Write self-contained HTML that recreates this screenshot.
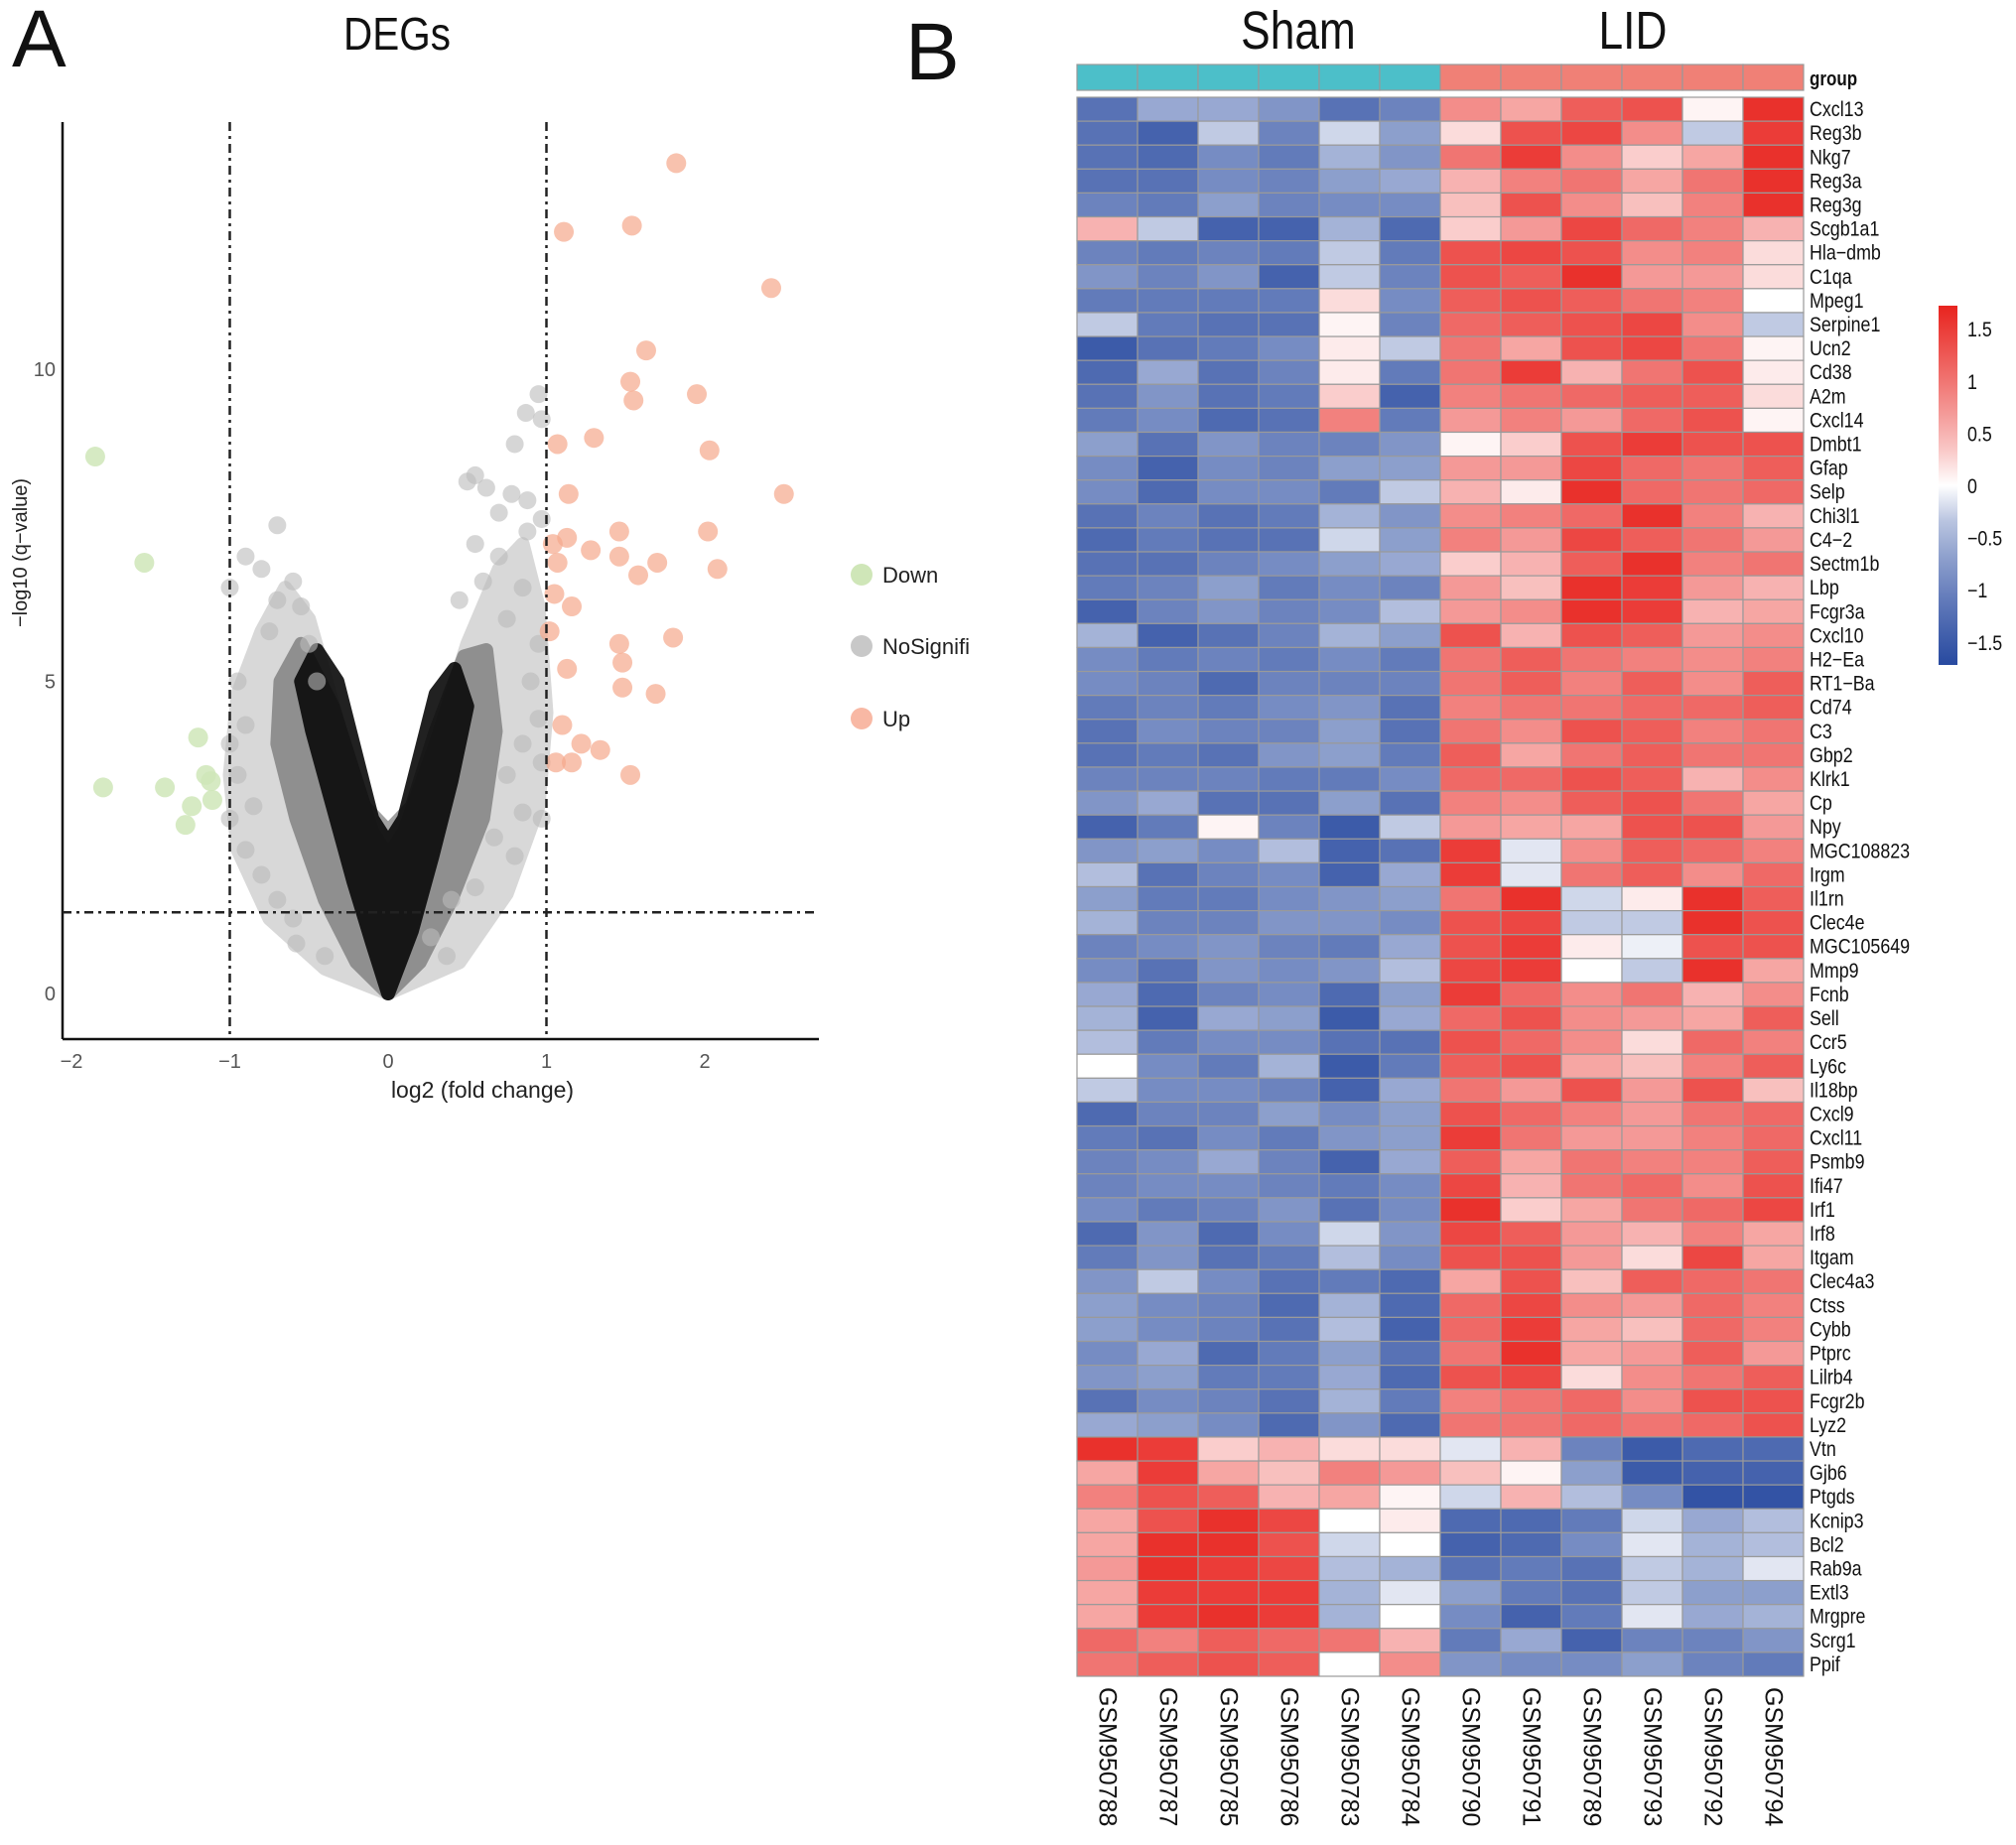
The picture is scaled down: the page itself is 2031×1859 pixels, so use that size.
<!DOCTYPE html>
<html><head><meta charset="utf-8"><style>
html,body{margin:0;padding:0;background:#fff;}
svg{display:block;font-family:"Liberation Sans",sans-serif;}
</style></head><body>
<svg id="fig" width="2031" height="1859" viewBox="0 0 2031 1859" xmlns="http://www.w3.org/2000/svg">
<text x="12" y="67" font-size="82" fill="#111">A</text>
<text x="912" y="80" font-size="82" fill="#111">B</text>
<text x="400" y="50" font-size="46" text-anchor="middle" fill="#111" transform="translate(400,0) scale(0.88,1) translate(-400,0)">DEGs</text>
<g id="volcano"></g>
<g id="heat"></g>
</svg>
<script>
const NS="http://www.w3.org/2000/svg";
function mk(parent,tag,attrs){const e=document.createElementNS(NS,tag);for(const k in attrs)e.setAttribute(k,attrs[k]);parent.appendChild(e);return e;}

// ---------- Volcano data ----------
const upX=[1.82,1.54,1.11,2.42,1.63,1.53,1.55,1.95,1.30,1.07,2.03,2.50,1.14,1.46,2.02,1.13,1.04,1.28,1.70,1.58,2.08,1.46,1.07,1.05,1.16,1.02,1.80,1.46,1.13,1.48,1.69,1.48,1.10,1.34,1.22,1.16,1.53,1.06];
const upY=[13.3,12.3,12.2,11.3,10.3,9.8,9.5,9.6,8.9,8.8,8.7,8.0,8.0,7.4,7.4,7.3,7.2,7.1,6.9,6.7,6.8,7.0,6.9,6.4,6.2,5.8,5.7,5.6,5.2,5.3,4.8,4.9,4.3,3.9,4.0,3.7,3.5,3.7];
const downX=[-1.85,-1.54,-1.20,-1.80,-1.41,-1.15,-1.24,-1.11,-1.28,-1.12];
const downY=[8.6,6.9,4.1,3.3,3.3,3.5,3.0,3.1,2.7,3.4];
const nsX=[-0.7,-0.9,-1.0,-0.8,-0.6,-0.55,-0.7,-0.75,-0.5,-0.45,-0.95,-0.9,-1.0,-0.95,-0.85,-1.0,-0.9,-0.8,-0.7,-0.6,-0.58,-0.4,0.95,0.87,0.97,0.8,0.55,0.5,0.62,0.78,0.88,0.7,0.97,0.88,0.55,0.7,0.85,0.6,0.45,0.75,0.95,0.9,0.95,0.85,0.97,0.75,0.85,0.97,0.67,0.8,0.55,0.4,0.37,0.27];
const nsY=[7.5,7.0,6.5,6.8,6.6,6.2,6.3,5.8,5.6,5.0,5.0,4.3,4.0,3.5,3.0,2.8,2.3,1.9,1.5,1.2,0.8,0.6,9.6,9.3,9.2,8.8,8.3,8.2,8.1,8.0,7.9,7.7,7.6,7.4,7.2,7.0,6.5,6.6,6.3,6.0,5.6,5.0,4.4,4.0,3.7,3.5,2.9,2.8,2.5,2.2,1.7,1.5,0.6,0.9];
// density envelopes of non-significant genes (outlines, data units)
const hazeX=[0,-0.4,-0.75,-0.95,-1.0,-0.95,-0.8,-0.65,-0.5,-0.3,-0.1,0,0.1,0.3,0.5,0.7,0.85,0.95,1.0,0.95,0.75,0.45];
const hazeY=[0,0.4,1.2,2.3,3.5,4.8,5.8,6.5,6.0,4.2,2.6,2.2,2.6,4.0,5.6,6.8,7.2,6.2,4.5,3.0,1.6,0.5];
const midX=[0,-0.2,-0.4,-0.58,-0.7,-0.68,-0.55,-0.35,-0.15,0,0.15,0.3,0.48,0.62,0.68,0.6,0.4,0.2];
const midY=[0,0.5,1.5,2.8,4.0,5.0,5.6,4.6,3.0,2.6,3.0,4.2,5.4,5.5,4.2,2.8,1.5,0.5];
const coreX=[0,-0.1,-0.22,-0.35,-0.48,-0.55,-0.45,-0.32,-0.2,-0.1,0,0.1,0.2,0.3,0.42,0.5,0.4,0.28,0.15];
const coreY=[0,0.8,1.8,3,4.2,5.0,5.5,5.0,3.8,2.8,2.4,2.8,3.8,4.8,5.2,4.6,3.4,2.2,1.0];
const xTicks=[-2,-1,0,1,2];
const yTicks=[0,5,10];
const qCut=1.3, fcCut=1;

const VX=v=>391+159.5*v, VY=v=>1001-62.9*v;
const vg=document.getElementById('volcano');
function poly(xs,ys,fill,op,name){const p=mk(vg,'polygon',{points:xs.map((x,i)=>VX(x)+','+VY(ys[i])).join(' '),fill:fill,opacity:op,'stroke':fill,'stroke-width':14,'stroke-linejoin':'round'});

}
poly(hazeX,hazeY,'#aaa','0.45','nonsig-haze');
poly(midX,midY,'#555','0.55','nonsig-mid');
poly(coreX,coreY,'#0a0a0a','0.9','nonsig-core');
nsX.forEach((x,i)=>{const c=mk(vg,'circle',{cx:VX(x),cy:VY(nsY[i]),r:9,fill:'#bbb','fill-opacity':0.6});

});
downX.forEach((x,i)=>{const c=mk(vg,'circle',{cx:VX(x),cy:VY(downY[i]),r:10,fill:'#cfe6b8','fill-opacity':0.85});

});
upX.forEach((x,i)=>{const c=mk(vg,'circle',{cx:VX(x),cy:VY(upY[i]),r:10,fill:'#f5a88c','fill-opacity':0.7});

});
// axes
let a=mk(vg,'line',{x1:63,y1:123,x2:63,y2:1047,stroke:'#111','stroke-width':2.5});


a=mk(vg,'line',{x1:63,y1:1047,x2:825,y2:1047,stroke:'#111','stroke-width':2.5});


[-fcCut,fcCut].forEach(v=>{const l=mk(vg,'line',{x1:VX(v),y1:123,x2:VX(v),y2:1047,stroke:'#222','stroke-width':2.5,'stroke-dasharray':'9,5,3,5'});

});
const hl=mk(vg,'line',{x1:63,y1:VY(qCut),x2:825,y2:VY(qCut),stroke:'#222','stroke-width':2.5,'stroke-dasharray':'9,5,3,5'});


xTicks.forEach(v=>{const t=mk(vg,'text',{x:VX(v),y:1076,'font-size':20,fill:'#555','text-anchor':'middle'});t.textContent=v<0?'\u2212'+(-v):v;

});
yTicks.forEach(v=>{const t=mk(vg,'text',{x:56,y:VY(v)+7,'font-size':20,fill:'#555','text-anchor':'end'});t.textContent=v;

});
let t=mk(vg,'text',{x:486,y:1106,'font-size':23,fill:'#222','text-anchor':'middle'});t.textContent='log2 (fold change)';


t=mk(vg,'text',{x:0,y:0,'font-size':20,fill:'#222','text-anchor':'middle',transform:'translate(27,557) rotate(-90)'});t.textContent='\u2212log10 (q\u2212value)';


const legLabels=['Down','NoSignifi','Up'], legCols=['#cfe6b8','#c8c8c8','#f8b8a4'], legY=[579,651,724];
legLabels.forEach((s,i)=>{const g=mk(vg,'g',{});


mk(g,'circle',{cx:868,cy:legY[i],r:11,fill:legCols[i]});
const tx=mk(g,'text',{x:889,y:legY[i]+8,'font-size':22,fill:'#222'});tx.textContent=s;});

// ---------- Heatmap data ----------
const genes=['Cxcl13','Reg3b','Nkg7','Reg3a','Reg3g','Scgb1a1','Hla\u2212dmb','C1qa','Mpeg1','Serpine1','Ucn2','Cd38','A2m','Cxcl14','Dmbt1','Gfap','Selp','Chi3l1','C4\u22122','Sectm1b','Lbp','Fcgr3a','Cxcl10','H2\u2212Ea','RT1\u2212Ba','Cd74','C3','Gbp2','Klrk1','Cp','Npy','MGC108823','Irgm','Il1rn','Clec4e','MGC105649','Mmp9','Fcnb','Sell','Ccr5','Ly6c','Il18bp','Cxcl9','Cxcl11','Psmb9','Ifi47','Irf1','Irf8','Itgam','Clec4a3','Ctss','Cybb','Ptprc','Lilrb4','Fcgr2b','Lyz2','Vtn','Gjb6','Ptgds','Kcnip3','Bcl2','Rab9a','Extl3','Mrgpre','Scrg1','Ppif'];
const samples=['GSM950788','GSM950787','GSM950785','GSM950786','GSM950783','GSM950784','GSM950790','GSM950791','GSM950789','GSM950793','GSM950792','GSM950794'];
const groups=['Sham','Sham','Sham','Sham','Sham','Sham','LID','LID','LID','LID','LID','LID'];
const values=[
[-1.2,-0.6,-0.6,-0.8,-1.2,-1.0,0.8,0.6,1.2,1.3,0.05,1.6],
[-1.2,-1.4,-0.3,-1.0,-0.2,-0.7,0.2,1.3,1.4,0.8,-0.3,1.5],
[-1.2,-1.3,-0.9,-1.1,-0.5,-0.8,1.0,1.5,0.8,0.3,0.6,1.6],
[-1.2,-1.2,-0.9,-1.0,-0.7,-0.6,0.5,0.9,1.0,0.6,1.0,1.6],
[-1.0,-1.1,-0.7,-1.0,-0.9,-0.9,0.4,1.3,0.8,0.4,0.9,1.6],
[0.5,-0.3,-1.4,-1.4,-0.5,-1.3,0.3,0.7,1.4,1.1,0.9,0.5],
[-1.0,-1.1,-1.0,-1.1,-0.3,-1.1,1.3,1.4,1.3,0.8,0.9,0.2],
[-0.8,-1.0,-0.8,-1.4,-0.3,-1.0,1.3,1.2,1.6,0.7,0.7,0.2],
[-1.1,-1.1,-1.1,-1.1,0.2,-0.9,1.2,1.3,1.2,1.0,0.9,0.0],
[-0.3,-1.1,-1.2,-1.2,0.05,-1.0,1.1,1.2,1.3,1.4,0.8,-0.3],
[-1.5,-1.2,-1.1,-0.9,0.1,-0.3,1.0,0.6,1.3,1.4,1.0,0.05],
[-1.3,-0.6,-1.2,-1.0,0.1,-1.1,1.0,1.5,0.5,1.0,1.3,0.1],
[-1.2,-0.8,-1.2,-1.1,0.3,-1.4,0.9,1.0,1.1,1.2,1.2,0.2],
[-1.1,-0.9,-1.3,-1.2,0.9,-1.1,0.7,0.9,0.7,1.1,1.3,0.05],
[-0.7,-1.2,-0.8,-1.0,-1.0,-0.8,0.05,0.3,1.3,1.5,1.3,1.3],
[-0.9,-1.4,-0.9,-1.0,-0.7,-0.7,0.7,0.7,1.4,1.1,1.0,1.2],
[-0.9,-1.3,-0.9,-0.9,-1.1,-0.3,0.5,0.1,1.6,1.1,1.0,1.1],
[-1.2,-1.0,-1.2,-1.1,-0.5,-0.8,0.8,0.9,1.1,1.6,0.9,0.5],
[-1.3,-1.1,-1.2,-1.2,-0.2,-0.7,0.9,0.7,1.4,1.2,1.0,0.7],
[-1.2,-1.2,-1.0,-0.9,-0.7,-0.6,0.3,0.5,1.2,1.6,0.9,1.0],
[-1.1,-1.0,-0.7,-1.1,-0.9,-1.0,0.7,0.4,1.6,1.5,0.7,0.5],
[-1.4,-1.0,-0.8,-1.0,-0.9,-0.4,0.7,0.8,1.6,1.5,0.5,0.6],
[-0.5,-1.4,-1.2,-1.0,-0.5,-0.7,1.3,0.5,1.3,1.2,0.7,0.8],
[-0.9,-1.1,-1.0,-1.1,-0.9,-1.1,1.0,1.2,1.0,0.9,0.8,0.9],
[-0.9,-1.0,-1.3,-1.0,-1.0,-1.0,1.0,1.2,0.9,1.2,0.8,1.2],
[-1.1,-1.0,-1.1,-0.9,-0.8,-1.2,0.9,1.0,1.0,1.1,1.1,1.2],
[-1.2,-0.9,-1.0,-1.0,-0.7,-1.2,1.0,0.8,1.3,1.2,0.9,1.0],
[-1.2,-1.1,-1.2,-0.8,-0.7,-1.1,1.2,0.6,1.0,1.2,1.0,1.0],
[-1.0,-1.0,-1.0,-1.1,-1.1,-0.9,1.1,1.1,1.3,1.2,0.5,0.8],
[-0.8,-0.6,-1.2,-1.2,-0.7,-1.2,0.9,0.8,1.2,1.3,1.0,0.6],
[-1.4,-1.1,0.05,-1.0,-1.5,-0.3,0.7,0.6,0.6,1.3,1.3,0.7],
[-0.8,-0.7,-0.9,-0.4,-1.4,-1.2,1.5,-0.1,0.8,1.2,1.1,0.9],
[-0.4,-1.2,-1.0,-0.9,-1.4,-0.6,1.5,-0.1,1.0,1.2,0.8,1.1],
[-0.7,-1.1,-1.1,-0.9,-0.8,-0.7,1.0,1.6,-0.2,0.1,1.6,1.2],
[-0.5,-1.0,-1.0,-0.8,-0.8,-0.9,1.3,1.4,-0.3,-0.3,1.6,1.3],
[-1.0,-0.9,-0.8,-1.0,-1.1,-0.6,1.3,1.5,0.1,-0.05,1.3,1.3],
[-0.9,-1.2,-0.8,-0.9,-0.8,-0.4,1.4,1.5,0.0,-0.3,1.6,0.6],
[-0.6,-1.3,-1.0,-0.9,-1.3,-0.7,1.5,1.1,0.8,1.0,0.5,0.8],
[-0.5,-1.4,-0.6,-0.7,-1.5,-0.6,1.1,1.3,0.8,0.7,0.6,1.2],
[-0.4,-1.1,-0.9,-0.9,-1.2,-1.2,1.3,1.1,0.8,0.2,1.1,0.9],
[0.0,-0.9,-1.1,-0.5,-1.5,-1.1,1.2,1.3,0.6,0.4,0.9,1.2],
[-0.3,-0.9,-0.9,-1.0,-1.4,-0.6,1.0,0.7,1.3,0.7,1.3,0.4],
[-1.3,-1.0,-1.0,-0.7,-0.9,-0.7,1.3,1.1,0.9,0.7,1.0,1.1],
[-1.1,-1.2,-0.9,-1.1,-0.8,-0.7,1.5,1.0,0.7,0.7,0.9,1.1],
[-1.0,-0.9,-0.6,-1.0,-1.4,-0.6,1.2,0.6,1.0,0.9,0.9,1.2],
[-1.0,-0.9,-0.9,-1.0,-1.1,-0.9,1.4,0.5,1.0,1.1,0.8,1.3],
[-0.9,-1.1,-1.0,-0.8,-1.2,-0.9,1.6,0.3,0.6,1.0,1.1,1.4],
[-1.3,-0.8,-1.3,-0.9,-0.2,-0.8,1.4,1.2,0.7,0.5,0.9,0.6],
[-1.1,-0.8,-1.2,-1.1,-0.4,-0.9,1.3,1.3,0.7,0.2,1.4,0.6],
[-0.8,-0.3,-0.9,-1.2,-1.1,-1.3,0.6,1.3,0.4,1.2,1.1,1.0],
[-0.7,-0.9,-1.0,-1.3,-0.5,-1.3,1.1,1.4,0.8,0.7,1.1,0.9],
[-0.7,-0.9,-1.0,-1.2,-0.4,-1.4,1.1,1.5,0.6,0.4,1.1,0.9],
[-0.9,-0.6,-1.3,-1.1,-0.7,-1.2,1.0,1.6,0.6,0.7,1.2,0.7],
[-0.8,-0.7,-1.1,-1.1,-0.6,-1.3,1.3,1.4,0.2,0.8,1.0,1.2],
[-1.2,-0.9,-1.0,-1.2,-0.5,-1.1,0.9,1.0,1.1,0.8,1.3,1.3],
[-0.6,-0.7,-0.9,-1.3,-0.8,-1.3,1.0,1.0,1.1,1.0,1.1,1.3],
[1.6,1.5,0.3,0.5,0.2,0.2,-0.1,0.5,-1.0,-1.5,-1.3,-1.3],
[0.6,1.5,0.6,0.4,0.9,0.7,0.4,0.05,-0.7,-1.5,-1.4,-1.4],
[0.9,1.3,1.2,0.5,0.6,0.05,-0.2,0.5,-0.4,-0.9,-1.6,-1.6],
[0.6,1.3,1.6,1.4,0.0,0.1,-1.3,-1.3,-1.1,-0.2,-0.6,-0.4],
[0.6,1.6,1.6,1.3,-0.2,0.0,-1.4,-1.3,-0.9,-0.1,-0.5,-0.4],
[0.7,1.6,1.5,1.4,-0.4,-0.5,-1.2,-1.1,-1.2,-0.3,-0.5,-0.1],
[0.6,1.5,1.5,1.5,-0.5,-0.1,-0.7,-1.1,-1.2,-0.3,-0.7,-0.7],
[0.6,1.5,1.6,1.5,-0.5,0.0,-0.9,-1.4,-1.1,-0.1,-0.6,-0.5],
[1.1,0.9,1.2,1.1,1.0,0.5,-1.1,-0.6,-1.4,-1.0,-1.0,-0.8],
[1.0,1.2,1.3,1.2,0.0,0.8,-0.8,-0.9,-0.9,-0.7,-1.0,-1.1]];
const scaleTicks=[1.5,1,0.5,0,-0.5,-1,-1.5];

const X0=1085,CW=61,Y0=98,RH=(1689-98)/66;
const vmax=1.72;
function col(v){const s=Math.max(-1,Math.min(1,v/vmax));
 const lo=[40,74,160], hi=[232,36,31];
 const c=s<0?lo:hi, f=Math.pow(Math.abs(s),s<0?0.7:0.85);
 return 'rgb('+c.map(ch=>Math.round(255+(ch-255)*f)).join(',')+')';}
const hg=document.getElementById('heat');
const grpCol={Sham:'#4cbfc9',LID:'#f08076'};
groups.forEach((g,j)=>{const r=mk(hg,'rect',{x:X0+j*CW,y:65,width:CW,height:26,fill:grpCol[g],stroke:'#999','stroke-width':1.2});

});
t=mk(hg,'text',{x:1823,y:86,'font-size':20,'font-weight':'bold',fill:'#111',transform:'translate(1823,0) scale(0.85,1) translate(-1823,0)'});t.textContent='group';


const gl=[['Sham',1308],['LID',1645]];
gl.forEach(([s,x])=>{const tx=mk(hg,'text',{x:x,y:49,'font-size':54,fill:'#111','text-anchor':'middle',transform:'translate('+x+',0) scale(0.82,1) translate('+(-x)+',0)'});tx.textContent=s;

});
values.forEach((row,i)=>{row.forEach((v,j)=>{const r=mk(hg,'rect',{x:X0+j*CW,y:Y0+i*RH,width:CW,height:RH,fill:col(v),stroke:'#9a9a9a','stroke-width':1.2});

});
 const gx=1823,gy=Y0+i*RH+RH/2+7;
 const tx=mk(hg,'text',{x:gx,y:gy,'font-size':21,fill:'#111',transform:'translate('+gx+',0) scale(0.85,1) translate('+(-gx)+',0)'});tx.textContent=genes[i];
 
 });
samples.forEach((s,j)=>{const cx=X0+j*CW+CW/2;const tx=mk(hg,'text',{x:cx,y:1700,'font-size':25,fill:'#111','dominant-baseline':'central',transform:'rotate(90,'+cx+',1700)'});tx.textContent=s;

});
const defs=mk(document.getElementById('fig'),'defs',{});
const lg=mk(defs,'linearGradient',{id:'cg',x1:0,y1:0,x2:0,y2:1});
[0,0.1,0.2,0.3,0.4,0.5,0.6,0.7,0.8,0.9,1].forEach(o=>mk(lg,'stop',{offset:o,'stop-color':col(vmax*(1-2*o))}));
const CB0=308,CB1=670,CS=v=>(CB0+CB1)/2-v*(CB1-CB0)/(2*vmax);
const cb=mk(hg,'rect',{x:1953,y:CB0,width:19,height:CB1-CB0,fill:'url(#cg)'});


scaleTicks.forEach(v=>{const tx=mk(hg,'text',{x:1982,y:CS(v)+8,'font-size':21,fill:'#111',transform:'translate(1982,0) scale(0.85,1) translate(-1982,0)'});tx.textContent=v<0?'\u2212'+(-v):v;

});
</script>
</body></html>
